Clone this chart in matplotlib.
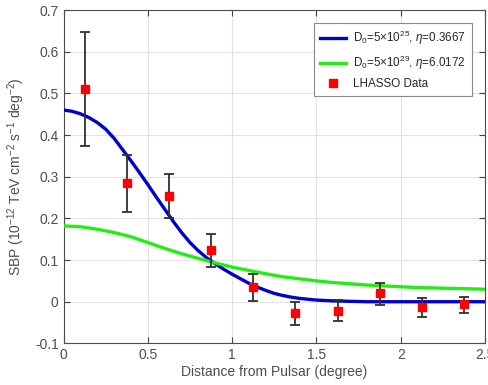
import matplotlib
matplotlib.use("Agg")
import matplotlib.pyplot as plt

plt.rcParams['font.family'] = ['Liberation Sans', 'DejaVu Sans']
plt.rcParams['mathtext.fontset'] = 'custom'
plt.rcParams['mathtext.rm'] = 'Liberation Sans'
plt.rcParams['mathtext.it'] = 'Liberation Sans:italic'

# Data points (LHAASO)
data_x = [0.125, 0.375, 0.625, 0.875, 1.125, 1.375, 1.625, 1.875, 2.125, 2.375]
data_y = [0.510, 0.284, 0.254, 0.124, 0.035, -0.026, -0.022, 0.020, -0.013, -0.006]
data_lo = [0.374, 0.215, 0.200, 0.084, 0.001, -0.056, -0.047, -0.008, -0.036, -0.027]
data_hi = [0.647, 0.352, 0.306, 0.162, 0.066, 0.000, 0.004, 0.044, 0.008, 0.012]

# Model curves
blue_x = [0.0, 0.05, 0.1, 0.15, 0.2, 0.25, 0.3, 0.35, 0.4, 0.45, 0.5, 0.55, 0.6,
          0.65, 0.7, 0.75, 0.8, 0.85, 0.9, 0.95, 1.0, 1.05, 1.1, 1.15, 1.2, 1.25,
          1.3, 1.35, 1.4, 1.45, 1.5, 1.6, 1.7, 1.8, 2.0, 2.2, 2.5]
blue_y = [0.460, 0.457, 0.451, 0.442, 0.430, 0.414, 0.392, 0.365, 0.338, 0.310,
          0.281, 0.251, 0.222, 0.193, 0.166, 0.142, 0.122, 0.105, 0.091, 0.078,
          0.066, 0.055, 0.044, 0.035, 0.027, 0.020, 0.015, 0.011, 0.008, 0.006,
          0.004, 0.002, 0.001, 0.0, 0.0, 0.0, 0.0]
green_x = [0.0, 0.1, 0.2, 0.3, 0.4, 0.5, 0.6, 0.7, 0.8, 0.9, 1.0, 1.1, 1.2, 1.3,
           1.4, 1.5, 1.6, 1.7, 1.8, 1.9, 2.0, 2.1, 2.2, 2.3, 2.4, 2.5]
green_y = [0.182, 0.180, 0.174, 0.166, 0.156, 0.142, 0.128, 0.115, 0.104, 0.093,
           0.083, 0.075, 0.067, 0.060, 0.055, 0.050, 0.046, 0.043, 0.040, 0.038,
           0.036, 0.034, 0.033, 0.032, 0.031, 0.030]

labels = ['D$_0$=5×10$^{25}$, $\\eta$=0.3667', 'D$_0$=5×10$^{29}$, $\\eta$=6.0172', 'LHASSO Data']
xticks = [0, 0.5, 1, 1.5, 2, 2.5]
xticklabels = ['0', '0.5', '1', '1.5', '2', '2.5']
yticks = [-0.1, 0, 0.1, 0.2, 0.3, 0.4, 0.5, 0.6, 0.7]
yticklabels = ['-0.1', '0', '0.1', '0.2', '0.3', '0.4', '0.5', '0.6', '0.7']

fig = plt.figure(figsize=(4.89, 3.85), dpi=100)
ax = fig.add_axes([0.130, 0.108, 0.862, 0.866])

ax.plot(blue_x, blue_y, color='#0000CC', lw=2.4, label=labels[0], zorder=3,
        solid_joinstyle='round')
ax.plot(green_x, green_y, color='#22EE11', lw=2.4, label=labels[1], zorder=3,
        solid_joinstyle='round')
yerr = [[y - lo for y, lo in zip(data_y, data_lo)], [hi - y for y, hi in zip(data_y, data_hi)]]
ax.errorbar(data_x, data_y, yerr=yerr, fmt='none', ecolor='#303030', elinewidth=1.3,
            capsize=3.5, capthick=1.3, zorder=4)
ax.plot(data_x, data_y, 's', color='#FF0000', ms=6, ls='none', label=labels[2], zorder=5)

ax.set_xlim(0, 2.5)
ax.set_ylim(-0.1, 0.7)
ax.set_xticks(xticks)
ax.set_xticklabels(xticklabels)
ax.set_yticks(yticks)
ax.set_yticklabels(yticklabels)
ax.grid(True, color='#E3E3E3', lw=0.8)
ax.set_axisbelow(True)
ax.tick_params(direction='in', length=4, width=0.8, top=True, right=True,
               colors='#404040', labelsize=10, labelcolor='#4D4D4D')
for s in ax.spines.values():
    s.set_color('#4D4D4D')
    s.set_linewidth(0.8)

ax.set_xlabel('Distance from Pulsar (degree)', fontsize=10, color='#4D4D4D', labelpad=2)
ax.set_ylabel('SBP (10$^{-12}$ TeV cm$^{-2}$ s$^{-1}$ deg$^{-2}$)', fontsize=10,
              color='#4D4D4D', labelpad=6)

leg = ax.legend(loc='upper right', bbox_to_anchor=(0.9685, 0.96), borderaxespad=0,
                fontsize=8.4, frameon=True, fancybox=False,
                edgecolor='#8A8A8A', framealpha=1, handlelength=2.3,
                handletextpad=0.6, borderpad=0.5, labelspacing=0.55)
leg.get_frame().set_linewidth(0.8)
for t in leg.get_texts():
    t.set_color('#262626')

fig.savefig('out.png', dpi=100)
